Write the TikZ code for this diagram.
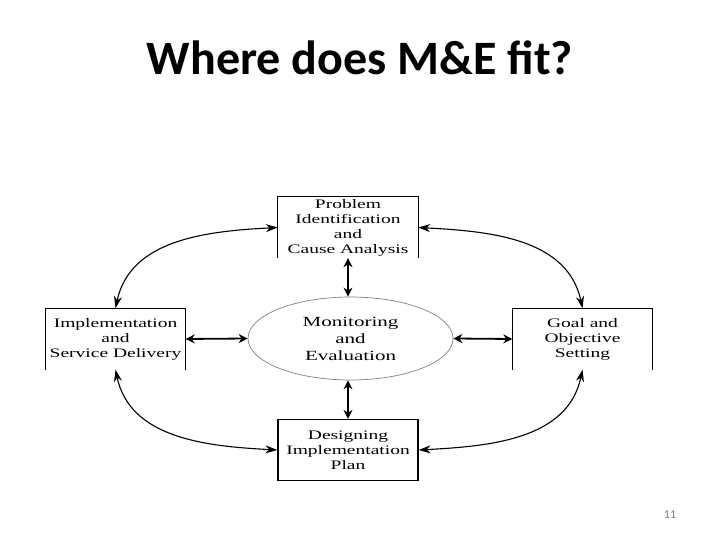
\documentclass[tikz,border=0pt]{standalone}
\usepackage{fontspec}
\setmainfont{Carlito}
\newfontfamily\boxfont[FakeStretch=1.5]{Liberation Serif}
\usetikzlibrary{arrows.meta,shapes.geometric}

\begin{document}
\begin{tikzpicture}[
    x=1pt, y=1pt,
    box/.style={rectangle, minimum width=140pt, minimum height=61pt, inner sep=0pt, align=center, font=\boxfont\fontsize{13}{15}\selectfont},
    frame/.style={line width=1.3pt},
    oval/.style={ellipse, draw=gray, line width=0.7pt, minimum width=205pt, minimum height=83pt, inner sep=0pt, align=center, font=\boxfont\fontsize{14}{17}\selectfont},
    arrow/.style={line width=1.8pt, {Stealth[length=9pt,width=9pt]}-{Stealth[length=9pt,width=9pt]}},
    cycarrow/.style={line width=1.1pt, {Stealth[length=12pt,width=8pt]}-{Stealth[length=12pt,width=8pt]}}
]
\useasboundingbox (0,0) rectangle (720,540);

% Title
\node (title) [anchor=base, font=\bfseries\fontsize{48}{54}\selectfont] at (360,465) {Where does M\&E fit?};
\node (pagenum) [anchor=base, font=\fontsize{12}{14}\selectfont, text=gray] at (670,21) {11};

% Nodes
\node (me) [oval] at (350.5,201.5) {Monitoring\\and\\Evaluation};

\node (prob) [box] at (348,312.5) {Problem\\Identification\\and\\Cause Analysis};

\node (goal) [box] at (582.5,201) {Goal and\\Objective\\Setting};

\node (plan) [box, draw, frame] at (348,90) {Designing\\Implementation\\Plan};

\node (impl) [box] at (115.5,201) {Implementation\\and\\Service Delivery};

% Open frames
\draw [frame] (prob.south west) -- (prob.north west) -- (prob.north east) -- (prob.south east);
\draw [frame] (goal.south west) -- (goal.north west) -- (goal.north east) -- (goal.south east);
\draw [frame] (impl.south west) -- (impl.north west) -- (impl.north east) -- (impl.south east);

% Links to M&E
\draw [arrow] (prob.south -| 348,0) -- (me.north -| 348,0);
\draw [arrow] (plan.north) -- (me.south -| 348,0);
\draw [arrow] (impl.east) -- (me.west);
\draw [arrow] (me.east) -- (goal.west);

% Cycle
\draw [cycarrow] (impl.north) to[out=78, in=183] (prob.west);
\draw [cycarrow] (prob.east) to[out=-3, in=102] (goal.north);
\draw [cycarrow] (goal.south) to[out=-102, in=3] (plan.east);
\draw [cycarrow] (plan.west) to[out=177, in=-78] (impl.south);

\end{tikzpicture}
\end{document}
